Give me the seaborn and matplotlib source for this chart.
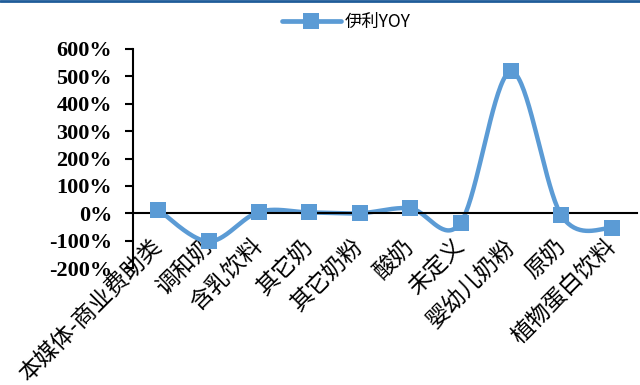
import numpy as np
import pandas as pd
import matplotlib
matplotlib.use("Agg")
import matplotlib.pyplot as plt
from matplotlib.lines import Line2D
import seaborn as sns

# Category names and year-over-year change (%)
categories = ["本媒体-商业费助类", "调和奶", "含乳饮料", "其它奶", "其它奶粉",
              "酸奶", "未定义", "婴幼儿奶粉", "原奶", "植物蛋白饮料"]
yoy = [13, -103, 5, 3, 0, 18, -35, 518, -8, -55]
series_name = "伊利YOY"
y_ticks = [-200, -100, 0, 100, 200, 300, 400, 500, 600]

LINE_COLOR = "#5B9BD5"

sns.set_theme(style="white")
plt.rcParams["font.family"] = ["Noto Sans CJK SC", "DejaVu Sans"]
plt.rcParams["text.color"] = "black"
plt.rcParams["xtick.color"] = "black"
plt.rcParams["ytick.color"] = "black"


def smooth_curve(xs, ys, n=40):
    """Catmull-Rom style Bezier smoothing through every point."""
    pts = np.column_stack([xs, ys]).astype(float)
    padded = np.vstack([pts[0], pts, pts[-1]])
    out = []
    t = np.linspace(0, 1, n)[:, None]
    for i in range(len(pts) - 1):
        p0, p1, p2, p3 = padded[i], padded[i + 1], padded[i + 2], padded[i + 3]
        c1 = p1 + (p2 - p0) / 6.0
        c2 = p2 - (p3 - p1) / 6.0
        seg = ((1 - t) ** 3) * p1 + 3 * ((1 - t) ** 2) * t * c1 \
            + 3 * (1 - t) * t ** 2 * c2 + t ** 3 * p2
        out.append(seg if i == 0 else seg[1:])
    seg_all = np.vstack(out)
    return seg_all[:, 0], seg_all[:, 1]


x_idx = np.arange(len(categories))
df = pd.DataFrame({"x": x_idx, "yoy": yoy})
sx, sy = smooth_curve(df["x"].values, df["yoy"].values)
curve = pd.DataFrame({"x": sx, "yoy": sy})

fig = plt.figure(figsize=(6.4, 3.85), dpi=100)
ax = fig.add_axes([133 / 640, 1 - 268 / 385, (637 - 133) / 640, (268 - 49) / 385])

sns.lineplot(data=curve, x="x", y="yoy", ax=ax, color=LINE_COLOR,
             linewidth=3.2, sort=False, estimator=None, legend=False)
sns.scatterplot(data=df, x="x", y="yoy", ax=ax, color=LINE_COLOR, marker="s",
                s=130, edgecolor=LINE_COLOR, linewidth=0, legend=False, zorder=5)

ax.set_xlim(-0.5, len(categories) - 0.5)
ax.set_ylim(-200, 600)
ax.set_xlabel("")
ax.set_ylabel("")
ax.grid(False)

# Axis lines: the category axis crosses at 0%
for side in ["top", "right"]:
    ax.spines[side].set_visible(False)
ax.spines["bottom"].set_position(("data", 0))
for side in ["bottom", "left"]:
    ax.spines[side].set_color("black")
    ax.spines[side].set_linewidth(1.5)

# Category ticks sit between categories; labels sit at category centres
ax.set_xticks(np.arange(len(categories) + 1) - 0.5)
ax.set_xticks(x_idx, minor=True)
ax.tick_params(axis="x", which="minor", length=0, pad=21)
ax.tick_params(axis="x", which="major", direction="out", length=5, width=1.5,
               color="black", labelbottom=False)
ax.tick_params(axis="y", direction="out", length=6, width=1.5, color="black",
               pad=9, left=True)

ax.set_xticklabels(categories, minor=True)
for lab in ax.get_xticklabels(minor=True):
    lab.set_rotation(45)
    lab.set_rotation_mode("anchor")
    lab.set_ha("right")
    lab.set_va("center")
    lab.set_fontsize(16.5)
    lab.set_fontweight("light")
    lab.set_color("black")

ax.set_yticks(y_ticks)
ax.set_yticklabels([f"{v}%" for v in y_ticks], family="Liberation Serif",
                   fontweight="bold", fontsize=16, color="black")

handle = Line2D([], [], color=LINE_COLOR, linewidth=3.4, marker="s",
                markersize=11, markeredgewidth=0)
fig.legend([handle], [series_name], loc="center", bbox_to_anchor=(346 / 640, 1 - 22 / 385),
           frameon=False, fontsize=12.5, handlelength=3.4, handletextpad=0.2,
           borderpad=0, labelcolor="black")

# Dark rule along the top edge
fig.add_artist(Line2D([0, 1], [0.997, 0.997], transform=fig.transFigure,
                      color="#1F5C99", linewidth=2))

fig.savefig("out.png", dpi=100)
